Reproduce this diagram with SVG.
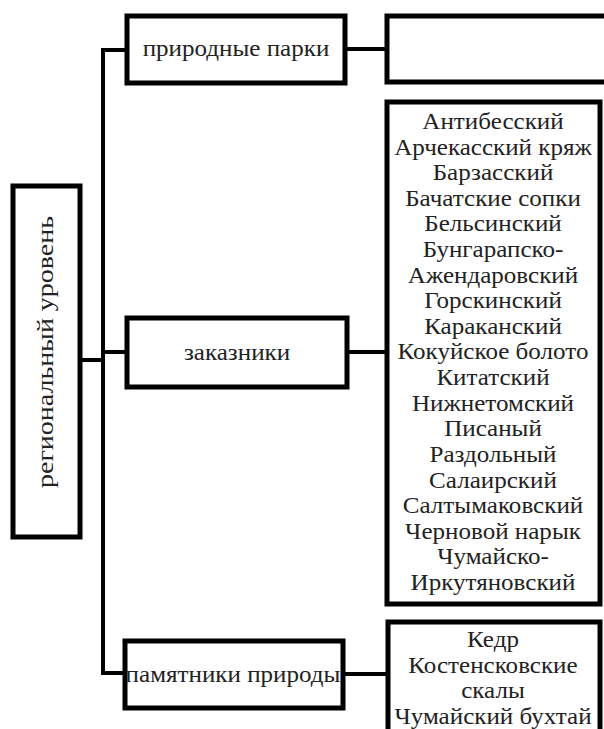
<svg xmlns="http://www.w3.org/2000/svg" width="604" height="729" viewBox="0 0 604 729">
<style>
.box{fill:#fff;stroke:#000;stroke-width:5}
.ln{fill:none;stroke:#000;stroke-width:4}
.lbl{font-family:'Liberation Serif','Times New Roman',serif;font-size:23px;fill:#222;text-anchor:middle}
</style>
<rect width="604" height="729" fill="#fff"/>
<g id="connectors">
<path class="ln" d="M127,50 H103 V673 H125"/>
<path class="ln" d="M80,360 H103"/>
<path class="ln" d="M103,352 H127"/>
<path class="ln" d="M345,49 H387"/>
<path class="ln" d="M347,352 H387"/>
<path class="ln" d="M343,674 H388"/>
</g>
<g id="regional">
<rect class="box" x="13" y="186" width="67" height="351"/>
<text class="lbl" transform="translate(53,352) rotate(-90)" textLength="272" lengthAdjust="spacingAndGlyphs">региональный уровень</text>
</g>
<g id="parks">
<rect class="box" x="127" y="16" width="218" height="67"/>
<text class="lbl" transform="translate(236,56) scale(1.09,1)">природные парки</text>
</g>
<g id="parks-list">
<rect class="box" x="387" y="16" width="240" height="66"/>
</g>
<g id="reserves">
<rect class="box" x="127" y="318" width="220" height="69"/>
<text class="lbl" transform="translate(237,360) scale(1.09,1)">заказники</text>
</g>
<g id="reserves-list">
<rect class="box" x="387" y="102" width="213" height="502"/>
<g transform="translate(493,0) scale(1.09,1)">
<text class="lbl" x="0" y="129">Антибесский</text>
<text class="lbl" x="0" y="155">Арчекасский кряж</text>
<text class="lbl" x="0" y="180">Барзасский</text>
<text class="lbl" x="0" y="206">Бачатские сопки</text>
<text class="lbl" x="0" y="231">Бельсинский</text>
<text class="lbl" x="0" y="257">Бунгарапско-</text>
<text class="lbl" x="0" y="283">Ажендаровский</text>
<text class="lbl" x="0" y="308">Горскинский</text>
<text class="lbl" x="0" y="334">Караканский</text>
<text class="lbl" x="0" y="359">Кокуйское болото</text>
<text class="lbl" x="0" y="385">Китатский</text>
<text class="lbl" x="0" y="411">Нижнетомский</text>
<text class="lbl" x="0" y="436">Писаный</text>
<text class="lbl" x="0" y="462">Раздольный</text>
<text class="lbl" x="0" y="488">Салаирский</text>
<text class="lbl" x="0" y="513">Салтымаковский</text>
<text class="lbl" x="0" y="539">Черновой нарык</text>
<text class="lbl" x="0" y="564">Чумайско-</text>
<text class="lbl" x="0" y="590">Иркутяновский</text>
</g>
</g>
<g id="monuments">
<rect class="box" x="125" y="641" width="218" height="67"/>
<text class="lbl" transform="translate(233,682) scale(1.09,1)">памятники природы</text>
</g>
<g id="monuments-list">
<rect class="box" x="388" y="622" width="212" height="130"/>
<g transform="translate(493,0) scale(1.09,1)">
<text class="lbl" x="0" y="647">Кедр</text>
<text class="lbl" x="0" y="673">Костенсковские</text>
<text class="lbl" x="0" y="698">скалы</text>
<text class="lbl" x="0" y="724">Чумайский бухтай</text>
</g>
</g>
</svg>
